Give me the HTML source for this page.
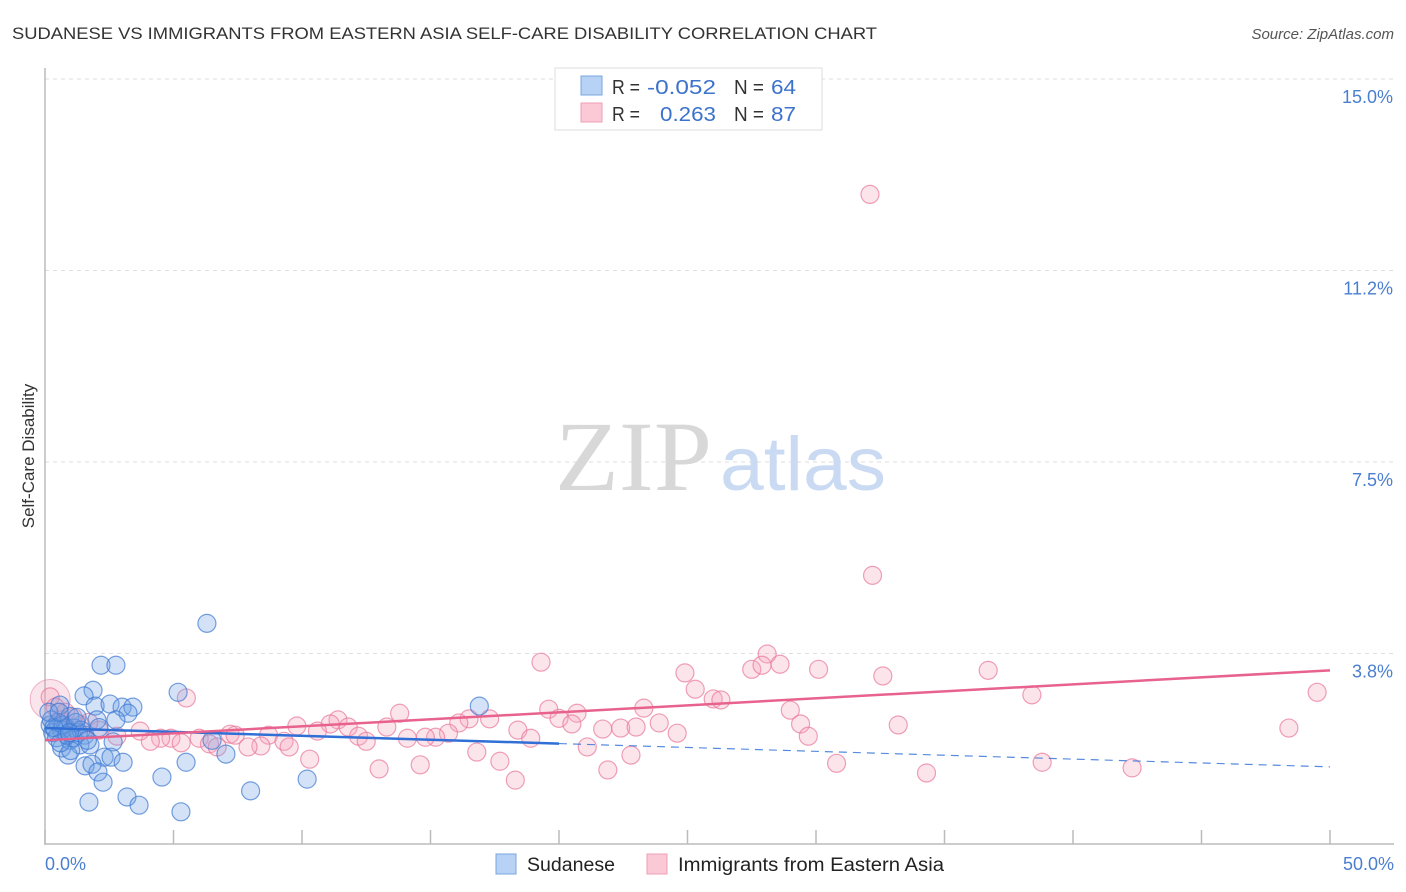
<!DOCTYPE html>
<html><head><meta charset="utf-8">
<style>
html,body{margin:0;padding:0;background:#fff;}
svg{display:block;font-family:"Liberation Sans",sans-serif;}
</style></head>
<body>
<svg id="chart" width="1406" height="892" viewBox="0 0 1406 892" xmlns="http://www.w3.org/2000/svg">
  <text x="12" y="39" font-size="17" fill="#333" textLength="865" lengthAdjust="spacingAndGlyphs">SUDANESE VS IMMIGRANTS FROM EASTERN ASIA SELF-CARE DISABILITY CORRELATION CHART</text>
  <text x="1394" y="39" font-size="15" fill="#555" font-style="italic" text-anchor="end">Source: ZipAtlas.com</text>
  <g id="grid"></g>
  <g>
    <text x="555" y="490" font-size="100" font-family="Liberation Serif,serif" fill="#d8d8d8" textLength="157" lengthAdjust="spacingAndGlyphs">ZIP</text>
    <text x="720" y="490" font-size="76" fill="#c9daf2" textLength="166" lengthAdjust="spacingAndGlyphs">atlas</text>
  </g>
  <line x1="45" y1="68" x2="45" y2="845" stroke="#bbb" stroke-width="1.5"/>
  <line x1="45" y1="844" x2="1394" y2="844" stroke="#bbb" stroke-width="1.5"/>
  <g id="xticks"></g>
  <g id="ylabels"></g>
  <text x="45" y="870" font-size="18" fill="#4a7fd0">0.0%</text>
  <text x="1394" y="870" font-size="18" fill="#4a7fd0" text-anchor="end">50.0%</text>
  <text transform="translate(34,456) rotate(-90)" font-size="17" fill="#333" text-anchor="middle">Self-Care Disability</text>
  <g id="pinkpts"></g>
  <g id="bluepts"></g>
  <g id="trends"></g>
  <g>
    <rect x="555" y="68" width="267" height="62" fill="#fff" stroke="#ddd"/>
    <rect x="581" y="76" width="21" height="19" fill="#b7d2f5" stroke="#7aa7e0"/>
    <rect x="581" y="103" width="21" height="19" fill="#fbc8d6" stroke="#ee9fb6"/>
    <text x="612" y="94" font-size="20" fill="#333" textLength="28" lengthAdjust="spacingAndGlyphs">R =</text>
    <text x="647" y="94" font-size="20" fill="#3b73cc" textLength="69" lengthAdjust="spacingAndGlyphs">-0.052</text>
    <text x="734" y="94" font-size="20" fill="#333" textLength="30" lengthAdjust="spacingAndGlyphs">N =</text>
    <text x="771" y="94" font-size="20" fill="#3b73cc" textLength="25" lengthAdjust="spacingAndGlyphs">64</text>
    <text x="612" y="121" font-size="20" fill="#333" textLength="28" lengthAdjust="spacingAndGlyphs">R =</text>
    <text x="660" y="121" font-size="20" fill="#3b73cc" textLength="56" lengthAdjust="spacingAndGlyphs">0.263</text>
    <text x="734" y="121" font-size="20" fill="#333" textLength="30" lengthAdjust="spacingAndGlyphs">N =</text>
    <text x="771" y="121" font-size="20" fill="#3b73cc" textLength="25" lengthAdjust="spacingAndGlyphs">87</text>
  </g>
  <g>
    <rect x="496" y="854" width="20" height="20" fill="#b7d2f5" stroke="#7aa7e0"/>
    <text x="527" y="871" font-size="19" fill="#222" textLength="88" lengthAdjust="spacingAndGlyphs">Sudanese</text>
    <rect x="647" y="854" width="20" height="20" fill="#fbc8d6" stroke="#ee9fb6"/>
    <text x="678" y="871" font-size="19" fill="#222" textLength="266" lengthAdjust="spacingAndGlyphs">Immigrants from Eastern Asia</text>
  </g>
</svg>
<script>
const yTicks = [3.75, 7.5, 11.25, 15.0];
const yTickLabels = ["3.8%", "7.5%", "11.2%", "15.0%"];
const xTicks = [0,5,10,15,20,25,30,35,40,45,50];
const blueX = [6.3,2.18,2.76,5.18,16.9,1.87,1.52,1.95,2.53,3.0,3.42,0.58,3.23,2.02,2.76,0.97,0.2,0.4,0.65,1.15,1.55,6.5,7.04,0.97,1.36,1.75,0.65,0.9,2.65,2.3,2.57,3.04,1.56,1.83,2.06,2.26,4.55,5.49,10.2,8.0,3.19,1.71,3.66,5.29,0.3,0.5,0.8,1.1,1.3,0.25,0.45,0.7,1.2,1.4,1.0,0.6,0.35,0.15,0.85,2.1,1.65,1.25,0.55,0.95];
const blueY = [4.34,3.52,3.52,2.99,2.72,3.03,2.92,2.72,2.76,2.70,2.70,2.74,2.58,2.45,2.45,2.52,2.35,2.25,2.25,2.29,2.15,2.05,1.78,2.05,1.96,1.96,1.90,1.76,2.02,1.72,1.72,1.62,1.55,1.58,1.43,1.23,1.33,1.62,1.29,1.06,0.94,0.84,0.78,0.65,2.2,2.4,2.3,2.1,2.2,2.45,2.1,2.35,2.4,2.25,1.85,2.0,2.3,2.6,2.15,2.3,2.05,2.5,2.6,2.2];
const pinkX = [32.1,32.2,19.3,28.1,27.5,27.9,28.6,24.9,30.1,32.6,36.7,49.5,38.4,25.3,26.0,26.3,23.3,19.6,20.7,20.0,20.5,29.0,29.4,29.7,33.2,48.4,23.9,21.7,22.4,23.0,24.6,17.3,16.5,16.1,13.8,11.4,11.1,11.8,13.3,9.8,10.6,18.4,18.9,15.7,15.2,14.8,14.1,12.2,12.5,8.7,9.3,9.5,7.2,7.4,8.4,7.9,6.0,6.4,6.7,4.9,5.3,4.5,4.1,3.7,2.8,5.5,21.1,22.8,21.9,16.8,17.7,18.3,13.0,14.6,10.3,30.8,34.3,38.8,42.3,0.2,0.8,0.6,1.4,2.1,1.7,0.4,1.1];
const pinkY = [12.74,5.28,3.58,3.74,3.44,3.52,3.54,3.37,3.44,3.31,3.42,2.99,2.94,3.05,2.86,2.84,2.68,2.66,2.58,2.48,2.37,2.64,2.37,2.13,2.35,2.29,2.39,2.27,2.29,2.31,2.19,2.47,2.47,2.39,2.58,2.45,2.37,2.31,2.31,2.33,2.23,2.25,2.09,2.19,2.11,2.11,2.09,2.13,2.03,2.15,2.03,1.92,2.17,2.15,1.94,1.92,2.09,1.98,1.92,2.09,2.0,2.09,2.03,2.23,2.13,2.88,1.92,1.76,1.47,1.82,1.64,1.27,1.49,1.57,1.68,1.60,1.41,1.62,1.51,2.9,2.6,2.45,2.35,2.25,2.4,2.7,2.5];
const blueTrend = [2.29, 1.53];
const blueSolidEnd = 20;
const pinkTrend = [2.05, 3.42];
const xMax = 50;

const X = v => 45 + v * (1330 - 45) / 50;
const Y = v => 845 - v * (845 - 79) / 15;
const NS = "http://www.w3.org/2000/svg";
function mk(tag, attrs, parent){const e=document.createElementNS(NS,tag);for(const k in attrs)e.setAttribute(k,attrs[k]);parent.appendChild(e);return e;}

const grid=document.getElementById('grid'), yl=document.getElementById('ylabels');
yTicks.forEach((t,i)=>{
  const l=mk('line',{x1:45,x2:1394,y1:Y(t),y2:Y(t),stroke:'#ddd','stroke-dasharray':'4,4'},grid);
  
  
  const tx=mk('text',{x:1393,y:Y(t)+24,'font-size':18,fill:'#4a7fd0','text-anchor':'end'},yl);
  tx.textContent=yTickLabels[i];
  
  
});
const xt=document.getElementById('xticks');
xTicks.forEach(t=>{
  const l=mk('line',{x1:X(t),x2:X(t),y1:830,y2:844,stroke:'#bbb','stroke-width':1.5},xt);
  
  
});
const pp=document.getElementById('pinkpts');
const big=mk('circle',{cx:X(0.2),cy:Y(2.85),r:20,fill:'rgba(240,150,180,0.25)',stroke:'rgba(230,130,160,0.6)'},pp);


pinkX.forEach((x,i)=>{
  const c=mk('circle',{cx:X(x),cy:Y(pinkY[i]),r:9,fill:'rgba(245,165,190,0.3)',stroke:'rgba(232,120,155,0.7)','stroke-width':1.2},pp);
  
  
});
const bp=document.getElementById('bluepts');
blueX.forEach((x,i)=>{
  const c=mk('circle',{cx:X(x),cy:Y(blueY[i]),r:9,fill:'rgba(110,160,230,0.3)',stroke:'rgba(60,120,210,0.7)','stroke-width':1.2},bp);
  
  
});
const tr=document.getElementById('trends');
const bAt=v=>blueTrend[0]+(blueTrend[1]-blueTrend[0])*v/xMax;
let l1=mk('line',{x1:X(0),y1:Y(bAt(0)),x2:X(blueSolidEnd),y2:Y(bAt(blueSolidEnd)),stroke:'#2f6fd6','stroke-width':2.5},tr);


let l2=mk('line',{x1:X(blueSolidEnd),y1:Y(bAt(blueSolidEnd)),x2:X(xMax),y2:Y(bAt(xMax)),stroke:'#2f6fd6','stroke-width':1.2,'stroke-dasharray':'8,6',opacity:0.8},tr);


let l3=mk('line',{x1:X(0),y1:Y(pinkTrend[0]),x2:X(xMax),y2:Y(pinkTrend[1]),stroke:'#e8628e','stroke-width':2.5},tr);


</script>
</body></html>
